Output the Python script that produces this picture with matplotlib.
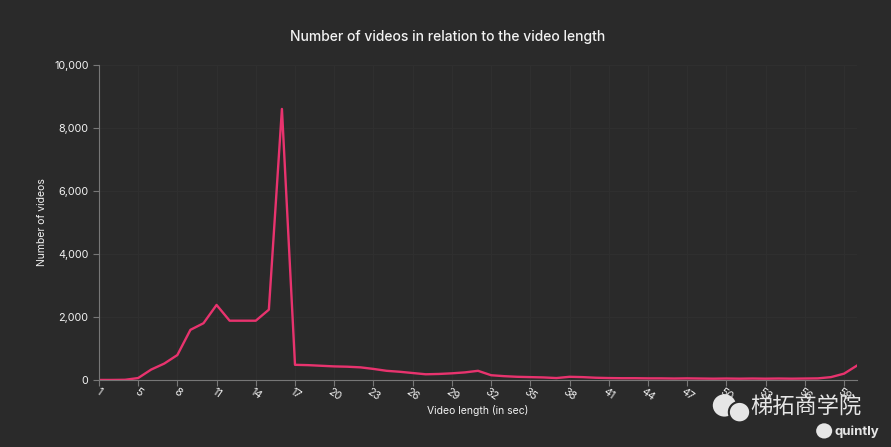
import numpy as np
import matplotlib
matplotlib.use('Agg')
import matplotlib.pyplot as plt
from matplotlib.patches import Ellipse

plt.rcParams['font.family'] = ['Inter', 'DejaVu Sans']

# video length categories (sec) - 2 sec is missing in the source chart
lengths = [1] + list(range(3, 61))
# number of videos per length
videos = [0, 0, 5, 60, 330, 520, 790, 1590, 1800, 2380,
          1880, 1880, 1880, 2230, 8600, 480, 470, 450, 430, 420,
          400, 350, 290, 260, 220, 180, 190, 210, 240, 290,
          150, 120, 100, 90, 80, 60, 100, 90, 70, 60,
          55, 55, 50, 50, 45, 50, 45, 40, 45, 40,
          45, 40, 45, 40, 45, 50, 90, 200, 460]
yticks = [0, 2000, 4000, 6000, 8000, 10000]
tick_step = 3

bg = '#2a2a2a'
line_col = '#e8336e'
txt = '#f2f2f2'

fig = plt.figure(figsize=(8.91, 4.47), dpi=100, facecolor=bg)
ax = fig.add_axes([0.111, 0.150, 0.851, 0.705], facecolor=bg)

x = np.arange(len(lengths))
ax.plot(x, videos, color=line_col, linewidth=1.7, solid_joinstyle='round')

ax.set_xlim(0, len(lengths) - 1)
ax.set_ylim(0, 10000)
ax.set_yticks(yticks)
ax.set_yticklabels(['{:,}'.format(v) for v in yticks])
xt = x[::tick_step]
ax.set_xticks(xt)
ax.set_xticklabels([str(lengths[i]) for i in xt], rotation=-35, ha='center')

ax.tick_params(colors='#777777', labelcolor=txt, labelsize=7.8, length=4, width=0.8)
ax.tick_params(axis='x', pad=1)
ax.grid(True, color='#2f2f2f', linewidth=0.8)
ax.set_axisbelow(True)
for s in ['top', 'right']:
    ax.spines[s].set_visible(False)
ax.spines['left'].set_color('#777777')
ax.spines['bottom'].set_color('#777777')

ax.set_xlabel('Video length (in sec)', color=txt, fontsize=7.5, labelpad=1)
ax.set_ylabel('Number of videos', color=txt, fontsize=7.5, labelpad=5)
fig.text(0.502, 0.918, 'Number of videos in relation to the video length',
         color=txt, fontsize=10, ha='center', va='center', fontweight='medium')

# watermark
fig.patches.append(Ellipse((0.813, 0.093), 0.026, 0.05, transform=fig.transFigure,
                           facecolor='#e6e6e6', edgecolor='none'))
fig.patches.append(Ellipse((0.830, 0.078), 0.024, 0.046, transform=fig.transFigure,
                           facecolor='#e6e6e6', edgecolor=bg, linewidth=1.5))
fig.text(0.905, 0.088, '梯拓商学院', color='#e6e6e6', fontsize=16, ha='center', va='center',
         family=['Noto Sans CJK SC', 'DejaVu Sans'])
fig.text(0.962, 0.033, 'quintly', color='#e6e6e6', fontsize=9.5, ha='center', va='center',
         fontweight='bold')
fig.patches.append(Ellipse((0.925, 0.036), 0.018, 0.034, transform=fig.transFigure,
                           facecolor='#e6e6e6', edgecolor='none'))

fig.savefig('out.png', dpi=100, facecolor=bg)
